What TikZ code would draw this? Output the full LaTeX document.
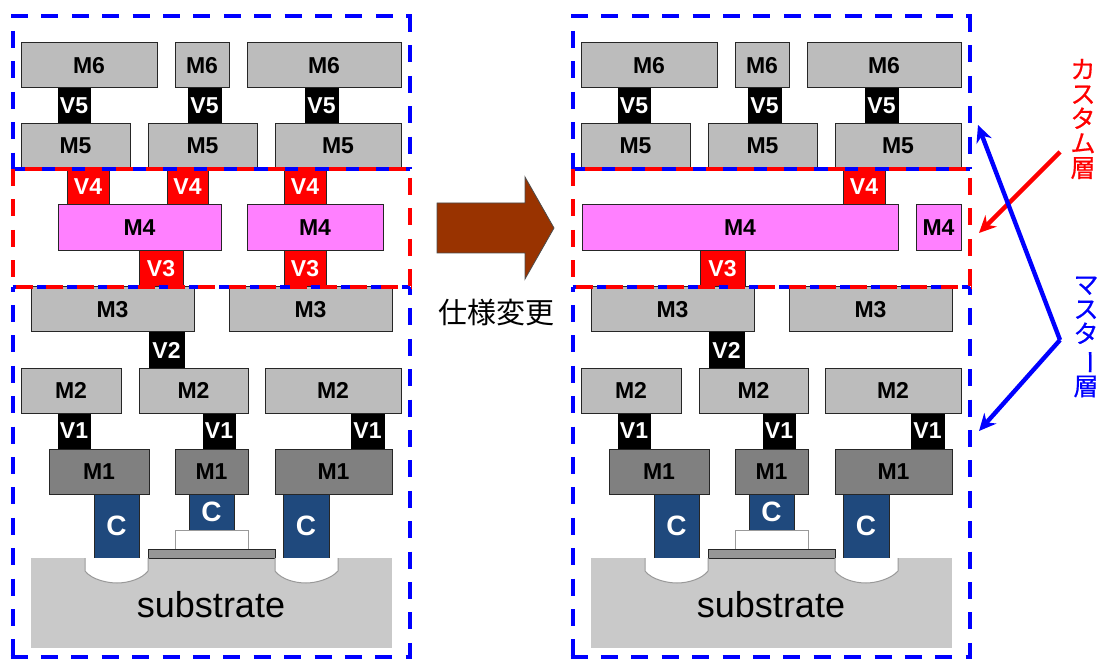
\documentclass[tikz,border=0pt]{standalone}
\usepackage{fontspec}
\usepackage{graphicx}
\setmainfont{Liberation Sans}
\newfontfamily\cjk{Noto Sans CJK JP}
\newfontfamily\cjkheavy[FakeBold=0.6]{Noto Sans CJK JP}
\usetikzlibrary{arrows.meta}
\tikzset{
  layerbox/.style={draw=black!85,line width=1pt,inner sep=0pt,outer sep=0pt,font=\fontsize{23}{23}\selectfont\bfseries},
  metal/.style={layerbox,fill=metalgray},
  metalone/.style={layerbox,fill=metaldark},
  custommetal/.style={layerbox,fill=metalpink},
  blackvia/.style={layerbox,fill=black,draw=black,text=white},
  redvia/.style={layerbox,fill=red,text=white},
  contact/.style={layerbox,fill=contactblue,text=white,font=\fontsize{28}{28}\selectfont\bfseries},
  spacer/.style={draw=black!40,line width=1pt,fill=white,inner sep=0pt,outer sep=0pt},
  gatepoly/.style={draw=black!85,line width=1pt,fill=black!41,inner sep=0pt,outer sep=0pt},
  substratebox/.style={fill=black!21,inner sep=0pt,outer sep=0pt},
  substratetext/.style={inner sep=0pt,font=\fontsize{36}{36}\selectfont},
  wellshape/.style={draw=black!40,line width=1pt,fill=white},
  masterframe/.style={draw=dashblue,line width=4pt,dash pattern=on 17pt off 13.4pt,dash phase=#1},
  customframe/.style={draw=red,line width=4pt,dash pattern=on 17pt off 13.4pt,dash phase=#1},
  bigarrow/.style={draw=black!70,line width=0.8pt,fill=arrowbrown},
  notered/.style={draw=red,line width=4.4pt,-{Stealth[length=17pt,width=16pt]}},
  noteblue/.style={draw=dashblue,line width=4.4pt,-{Stealth[length=17pt,width=16pt]}},
  sidetext/.style={inner sep=0pt,align=center,font=\fontsize{25}{24.6}\selectfont\cjkheavy},
}
\definecolor{metalgray}{HTML}{BCBCBC}
\definecolor{metaldark}{HTML}{808080}
\definecolor{metalpink}{HTML}{FF80FF}
\definecolor{contactblue}{HTML}{1F497D}
\definecolor{dashblue}{HTML}{0000FF}
\definecolor{arrowbrown}{HTML}{993300}
\newcommand\mybox[7]{%
  \pgfmathsetmacro\mycx{(#3+#5)/2}\pgfmathsetmacro\mycy{(#4+#6)/2}%
  \pgfmathsetmacro\myw{#5-#3}\pgfmathsetmacro\myh{#6-#4}%
  \node[#1,minimum width=\myw pt,minimum height=\myh pt] (#2) at (\mycx,\mycy) {#7};}
\newcommand\commonpanel{%
  % upper layers
  \mybox{blackvia}{v5a}{58}{88}{90}{124}{V5}
  \mybox{blackvia}{v5b}{188}{88}{221}{124}{V5}
  \mybox{blackvia}{v5c}{305}{88}{338}{124}{V5}
  \mybox{metal}{m6b}{175}{43}{229}{88}{M6}
  \mybox{metal}{m5a}{21}{124}{130}{168}{M5}
  \mybox{metal}{m5b}{148}{124}{257}{168}{M5}
  \mybox{metal}{m5c}{275}{124}{401}{168}{M5}
  \mybox{metal}{m6a}{21}{43}{157}{88}{M6}
  \mybox{metal}{m6c}{247}{43}{401}{88}{M6}
  % lower layers
  \mybox{blackvia}{v2}{149}{332}{184}{368}{V2}
  \mybox{blackvia}{v1a}{58}{413}{90}{449}{V1}
  \mybox{blackvia}{v1b}{203}{413}{235}{449}{V1}
  \mybox{blackvia}{v1c}{351}{413}{384}{449}{V1}
  \mybox{metal}{m3a}{31}{287}{194}{332}{M3}
  \mybox{metal}{m3b}{229}{287}{392}{332}{M3}
  \mybox{metal}{m2a}{21}{368}{121}{413}{M2}
  \mybox{metal}{m2b}{139}{368}{248}{413}{M2}
  \mybox{metal}{m2c}{265}{368}{401}{413}{M2}
  \mybox{contact}{ca}{94}{494}{139}{558}{C}
  \mybox{contact}{cb}{189}{494}{234}{530}{C}
  \mybox{contact}{cc}{283}{494}{329}{558}{C}
  \mybox{metalone}{m1a}{49}{449}{149}{494}{M1}
  \mybox{metalone}{m1b}{175}{449}{248}{494}{M1}
  \mybox{metalone}{m1c}{275}{449}{392}{494}{M1}
  % transistor
  \mybox{substratebox}{sub}{31}{558}{392}{648}{}
  \node[substratetext] (subtext) at (211,605) {substrate};
  \mybox{spacer}{spc}{175}{530}{248}{549}{}
  \mybox{gatepoly}{gate}{148}{549}{275}{558}{}
  \draw[wellshape] (85,558) -- (85,571) .. controls (92,580) and (108,583) .. (117,583) .. controls (128,583) and (142,579) .. (148,571) -- (148,558);
  \draw[wellshape] (275,558) -- (275,571) .. controls (282,580) and (296,583) .. (306,583) .. controls (316,583) and (331,579) .. (338,571) -- (338,558);
}
\newcommand\frames{%
  % upper master frame
  \draw[masterframe=0pt] (11,16) -- (411.5,16);
  \draw[masterframe=15.4pt] (12.5,16) -- (12.5,169);
  \draw[masterframe=1pt] (409.5,16) -- (409.5,169);
  \draw[masterframe=1.5pt] (12.5,169) -- (409.5,169);
  % lower master frame
  \draw[masterframe=5.9pt] (12.5,287) -- (409.5,287);
  \draw[masterframe=12.4pt] (12.5,287) -- (12.5,657);
  \draw[masterframe=9pt] (409.5,287) -- (409.5,657);
  \draw[masterframe=0pt] (10.5,657) -- (411.5,657);
  % custom frame
  \draw[customframe=0pt] (12.5,169) -- (12.5,287);
  \draw[customframe=21.4pt] (409.5,169) -- (409.5,287);
  \draw[customframe=18.4pt] (12.5,169) -- (411.5,169);
  \draw[customframe=26.9pt] (12.5,287) -- (411.5,287);
}
\begin{document}
\begin{tikzpicture}[x=1pt,y=-1pt]
\useasboundingbox (0,0) rectangle (1104,663);
% left panel
\begin{scope}[name prefix=l-]
  \commonpanel
  \mybox{redvia}{v4a}{67}{169}{109}{205}{V4}
  \mybox{redvia}{v4b}{167}{169}{208}{205}{V4}
  \mybox{redvia}{v4c}{284}{169}{326}{205}{V4}
  \mybox{redvia}{v3a}{139}{251}{183}{287}{V3}
  \mybox{redvia}{v3b}{284}{251}{326}{287}{V3}
  \mybox{custommetal}{m4a}{58}{205}{221}{251}{M4}
  \mybox{custommetal}{m4b}{247}{205}{383}{251}{M4}
  \frames
\end{scope}
% right panel
\begin{scope}[xshift=560pt,name prefix=r-]
  \commonpanel
  \mybox{redvia}{v4c}{283}{169}{325}{205}{V4}
  \mybox{redvia}{v3a}{140}{251}{185}{287}{V3}
  \mybox{custommetal}{m4a}{22}{205}{338}{251}{M4}
  \mybox{custommetal}{m4b}{356}{205}{401}{251}{M4}
  \frames
\end{scope}
% change arrow
\draw[bigarrow] (437,203) -- (525,203) -- (525,177) -- (554,228) -- (525,279) -- (525,253) -- (437,253) -- cycle;
\node[inner sep=0pt,font=\fontsize{29}{29}\selectfont\cjk] (change) at (496,313) {仕様変更};
% side notes
\node[sidetext,text=red] (custom) at (1083,119) {カ\\ス\\タ\\ム\\層};
\node[sidetext,text=dashblue] (master) at (1086,337) {マ\\ス\\タ\\\rotatebox[origin=c]{-90}{ー}\\層};
\coordinate (redstart) at (1060,152);
\coordinate (redtip) at (979,233);
\coordinate (bluestart) at (1060,340);
\coordinate (bluetipa) at (978,125);
\coordinate (bluetipb) at (979,431);
\draw[notered] (redstart) -- (redtip);
\draw[noteblue,line join=round] (bluestart) -- (bluetipa);
\draw[noteblue] (bluestart) -- (bluetipb);
\end{tikzpicture}
\end{document}
